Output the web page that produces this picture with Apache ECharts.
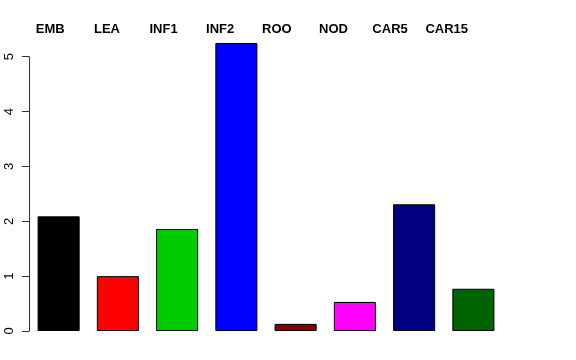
<!DOCTYPE html>
<html><head><meta charset="utf-8">
<script src="https://cdn.jsdelivr.net/npm/echarts@6/dist/echarts.min.js"></script>
<style>html,body{margin:0;padding:0;background:#fff}#c{width:576px;height:360px}</style>
</head><body><div id="c"></div>
<script>
const categories = ["EMB","LEA","INF1","INF2","ROO","NOD","CAR5","CAR15"];
const values = [2.09, 1.00, 1.86, 5.25, 0.13, 0.53, 2.31, 0.77];
const colors = ["#000000","#FF0000","#00CD00","#0000FF","#8B0000","#FF00FF","#000080","#006400"];
const yTicks = [0,1,2,3,4,5];

const chart = echarts.init(document.getElementById('c'), null, {renderer:'canvas'});
const font = "'Liberation Sans', Arial, sans-serif";
chart.setOption({
  animation:false,
  backgroundColor:'#ffffff',
  grid:[
    {left:29, right:73, top:56.7, bottom:29, containLabel:false},
    {left:22, right:101, top:56.7, bottom:29, containLabel:false}
  ],
  xAxis:[
    {type:'category', gridIndex:0, data:categories, axisLine:{show:false}, axisTick:{show:false}, axisLabel:{show:false}},
    {type:'category', gridIndex:1, position:'top', data:categories, axisLine:{show:false}, axisTick:{show:false},
     axisLabel:{show:true, margin:21, fontFamily:font, fontWeight:'bold', fontSize:13, color:'#000'}}
  ],
  yAxis:[
    {type:'value', gridIndex:0, min:yTicks[0], max:yTicks[yTicks.length-1], interval:1,
     axisLine:{show:true, lineStyle:{color:'#333', width:1}},
     axisTick:{show:true, length:7, lineStyle:{color:'#333'}},
     splitLine:{show:false},
     axisLabel:{rotate:90, margin:13, fontFamily:font, fontSize:13, color:'#000'}},
    {type:'value', gridIndex:1, show:false, min:0, max:5}
  ],
  series:[{
    type:'bar', xAxisIndex:0, yAxisIndex:0, clip:false,
    barCategoryGap:'29%',
    data: values.map((v,i)=>({value:v, itemStyle:{color:colors[i]}})),
    itemStyle:{borderColor:'#000', borderWidth:1}
  }]
});
</script></body></html>
